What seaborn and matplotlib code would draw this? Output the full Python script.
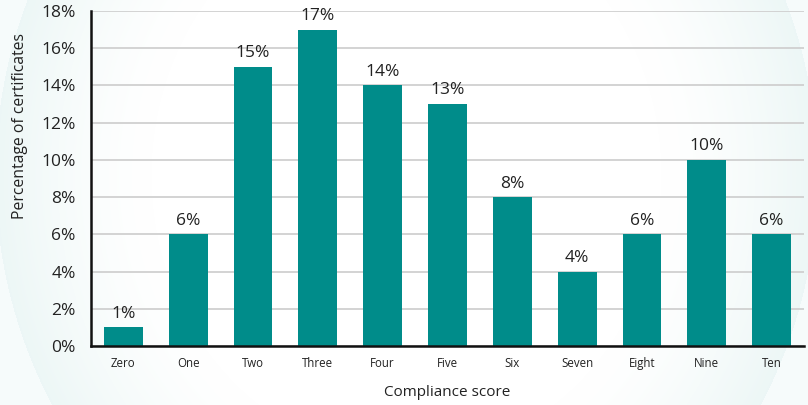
import numpy as np
import pandas as pd
import matplotlib
matplotlib.use("Agg")
import matplotlib.pyplot as plt
import seaborn as sns

# Share of certificates by compliance score
scores = ["Zero", "One", "Two", "Three", "Four", "Five", "Six",
          "Seven", "Eight", "Nine", "Ten"]
percentages = [1, 6, 15, 17, 14, 13, 8, 4, 6, 10, 6]
y_ticks = [0, 2, 4, 6, 8, 10, 12, 14, 16, 18]
y_tick_labels = [f"{v}%" for v in y_ticks]
bar_labels = [f"{v}%" for v in percentages]

sns.set_theme(style="white")
plt.rcParams["font.family"] = ["Open Sans", "DejaVu Sans"]

TEXT = "#222222"
BAR = "#008C8A"
W, H = 808, 405

fig = plt.figure(figsize=(W / 100, H / 100), dpi=100)
fig.patch.set_facecolor("white")

# soft teal wash behind the chart
bg = fig.add_axes([0, 0, 1, 1], zorder=-10)
yy, xx = np.mgrid[0:H, 0:W]
r = np.sqrt(((xx - 406) / 411.0) ** 2 + ((yy - 175) / 453.0) ** 2)
tint = np.where(r <= 1, np.clip((r - 0.62) / 0.38, 0, 1) ** 1.4 * 0.16, 0.07)
teal = np.array([0.55, 0.80, 0.78])
img = 1 - tint[..., None] * (1 - teal)
bg.imshow(img, extent=[0, W, H, 0], aspect="auto", interpolation="bilinear")
bg.set_axis_off()

ax = fig.add_axes([91 / W, (H - 346) / H, 713 / W, 335 / H])
ax.patch.set_alpha(0)

df = pd.DataFrame({"score": scores, "pct": percentages})
sns.barplot(data=df, x="score", y="pct", color=BAR, saturation=1,
            width=0.6, linewidth=0, edgecolor=BAR, ax=ax, zorder=3)

ax.set_xlim(-0.5, 10.5)
ax.set_ylim(0, 18)

# gridlines
ax.set_yticks(y_ticks)
ax.set_yticklabels(y_tick_labels)
ax.yaxis.grid(True, color="#d0d0d0", linewidth=1.3, zorder=0)
ax.xaxis.grid(False)
ax.set_axisbelow(True)

for side in ("top", "right"):
    ax.spines[side].set_visible(False)
for side in ("left", "bottom"):
    ax.spines[side].set_color("#111111")
    ax.spines[side].set_linewidth(1.8)
    ax.spines[side].set_zorder(5)

ax.tick_params(axis="y", length=0, pad=11, labelsize=12.5, labelcolor=TEXT)
ax.tick_params(axis="x", which="major", length=0, pad=8, labelsize=8.3,
               labelcolor=TEXT)
ax.set_xticks(np.arange(len(scores)) + 0.5, minor=True)
ax.tick_params(axis="x", which="minor", direction="in", length=5,
               width=1.3, color="#111111")

ax.bar_label(ax.containers[0], labels=bar_labels, padding=4,
             fontsize=12.5, color=TEXT)

ax.set_xlabel("Compliance score", fontsize=11, color=TEXT)
ax.xaxis.label.set_va("center")
ax.xaxis.set_label_coords(0.5, (346 - 393) / 335)
ax.set_ylabel("Percentage of certificates", fontsize=11.3, color=TEXT)
ax.yaxis.label.set_va("center")
ax.yaxis.set_label_coords((20 - 91) / 713, (346 - 126) / 335)

fig.savefig("out.png", dpi=100)
